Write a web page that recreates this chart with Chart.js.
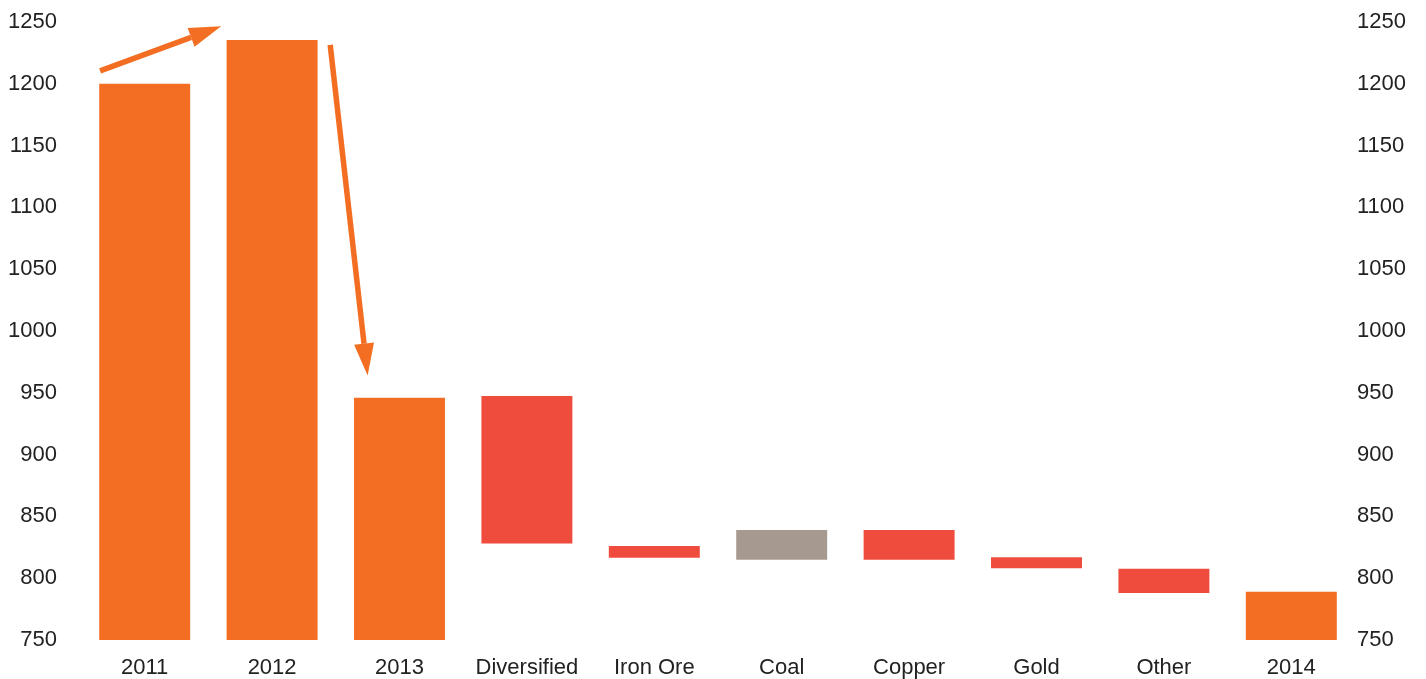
<!DOCTYPE html>
<html>
<head>
<meta charset="utf-8">
<script src="https://cdn.jsdelivr.net/npm/chart.js@4/dist/chart.umd.min.js"></script>
<style>
  html, body { margin: 0; padding: 0; background: #fff; }
  #wrap { width: 1426px; height: 679px; }
</style>
</head>
<body>
<div id="wrap"><canvas id="myChart"></canvas></div>
<script>
const categories = ['2011', '2012', '2013', 'Diversified', 'Iron Ore', 'Coal', 'Copper', 'Gold', 'Other', '2014'];
const barLow  = [750, 750, 750, 828, 816.6, 815, 815, 808, 788, 750];
const barHigh = [1200, 1235.5, 946, 947.5, 826, 839, 839, 817, 807.6, 789];
const barColors = ['#F36E22', '#F36E22', '#F36E22', '#EF4C3D', '#EF4C3D', '#A69A90', '#EF4C3D', '#EF4C3D', '#EF4C3D', '#F36E22'];
const yTicks = [750, 1250];
// arrows: [fromIndex, fromValue, toIndex, toValue]
const arrows = [
  [-0.35, 1210.5, 0.6, 1246.5],
  [1.456, 1231.5, 1.75, 964]
];

Chart.defaults.font.family = "'Liberation Sans', Arial, sans-serif";
Chart.defaults.font.size = 22;
Chart.defaults.color = '#222';

const arrowPlugin = {
  id: 'arrows',
  afterDatasetsDraw(chart) {
    const c = chart.ctx, xs = chart.scales.x, ys = chart.scales.y;
    c.save();
    c.strokeStyle = '#F36E22';
    c.fillStyle = '#F36E22';
    c.lineWidth = 5.5;
    arrows.forEach(a => {
      const x1 = xs.getPixelForValue(a[0]), y1 = ys.getPixelForValue(a[1]);
      const x2 = xs.getPixelForValue(a[2]), y2 = ys.getPixelForValue(a[3]);
      const ang = Math.atan2(y2 - y1, x2 - x1);
      const hl = 32, hw = 10;
      const bx = x2 - hl * Math.cos(ang), by = y2 - hl * Math.sin(ang);
      c.beginPath();
      c.moveTo(x1, y1);
      c.lineTo(bx, by);
      c.stroke();
      c.beginPath();
      c.moveTo(x2, y2);
      c.lineTo(bx + hw * Math.sin(ang), by - hw * Math.cos(ang));
      c.lineTo(bx - hw * Math.sin(ang), by + hw * Math.cos(ang));
      c.closePath();
      c.fill();
    });
    c.restore();
  }
};

const data = {
  labels: categories,
  datasets: [{
    data: categories.map((c, i) => [barLow[i], barHigh[i]]),
    backgroundColor: barColors,
    borderWidth: 0,
    barPercentage: 0.714,
    categoryPercentage: 1
  }]
};

const plain = v => String(v);

new Chart(document.getElementById('myChart'), {
  type: 'bar',
  data: data,
  plugins: [arrowPlugin],
  options: {
    responsive: true,
    maintainAspectRatio: false,
    animation: false,
    layout: { padding: { top: 22, left: 0, right: 0, bottom: 0 } },
    plugins: { legend: { display: false }, tooltip: { enabled: false } },
    scales: {
      x: {
        grid: { display: false, drawTicks: false },
        border: { display: false },
        ticks: { padding: 15, maxRotation: 0 },
        afterFit(s) { s.height = 39; s.paddingLeft = 0; s.paddingRight = 0; }
      },
      y: {
        min: yTicks[0], max: yTicks[1],
        grid: { display: false, drawTicks: false },
        border: { display: false },
        ticks: { stepSize: 50, padding: 24, callback: plain },
        afterFit(s) { s.width = 81; s.paddingTop = 0; s.paddingBottom = 0; }
      },
      y2: {
        position: 'right',
        min: yTicks[0], max: yTicks[1],
        grid: { display: false, drawTicks: false },
        border: { display: false },
        ticks: { stepSize: 50, padding: 2, callback: plain },
        afterFit(s) { s.width = 71; s.paddingTop = 0; s.paddingBottom = 0; }
      }
    }
  }
});
</script>
</body>
</html>
